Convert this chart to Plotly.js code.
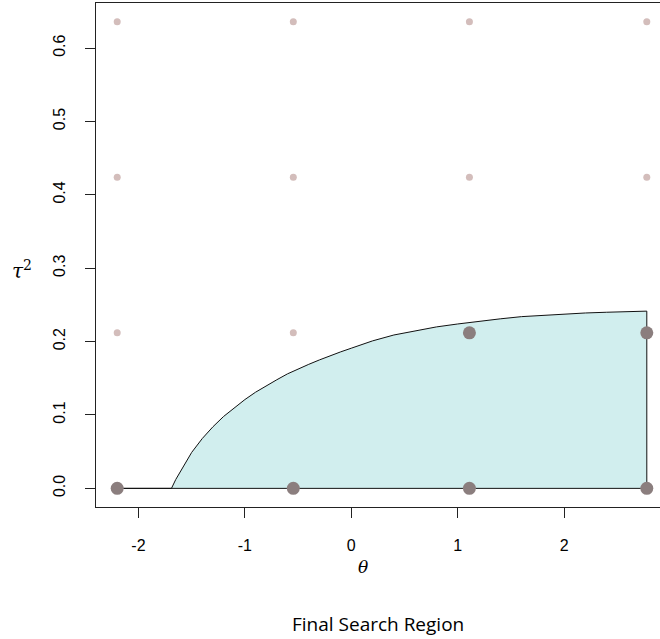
<!DOCTYPE html>
<html>
<head>
<meta charset="utf-8">
<script src="https://cdn.plot.ly/plotly-3.0.1.min.js"></script>
<style>
html,body{margin:0;padding:0;overflow:hidden;background:#fff;}
#chart{width:680px;height:639px;}
</style>
</head>
<body>
<div id="chart"></div>
<script>
// grid of candidate points
const gridTheta = [-2.2, -0.545, 1.11, 2.777];
const gridTau2 = [0, 0.212, 0.424, 0.636];
// selected (large) points
const selTheta = [-2.2, -0.545, 1.11, 2.777, 1.11, 2.777];
const selTau2 = [0, 0, 0, 0, 0.212, 0.212];
// boundary of the search region
const regionTheta = [-2.2, -1.69, -1.65, -1.6, -1.5, -1.4, -1.3, -1.2, -1.1, -1.0, -0.9, -0.8, -0.7, -0.6, -0.5, -0.4, -0.3, -0.2, -0.1, 0, 0.2, 0.4, 0.6, 0.8, 1.0, 1.2, 1.4, 1.6, 1.8, 2.0, 2.2, 2.4, 2.6, 2.777, 2.777, -2.2];
const regionTau2 = [0, 0, 0.012, 0.025, 0.049, 0.068, 0.084, 0.098, 0.110, 0.121, 0.131, 0.140, 0.148, 0.156, 0.163, 0.169, 0.175, 0.181, 0.186, 0.191, 0.201, 0.209, 0.215, 0.220, 0.224, 0.228, 0.231, 0.234, 0.236, 0.2375, 0.239, 0.240, 0.241, 0.2415, 0, 0];
const xTicks = [-2, -1, 0, 1, 2];
const yTicks = [0, 0.1, 0.2, 0.3, 0.4, 0.5, 0.6];

const gx = [], gy = [];
gridTau2.forEach(t => gridTheta.forEach(th => { gx.push(th); gy.push(t); }));

const traces = [
  {x: regionTheta, y: regionTau2, type: 'scatter', mode: 'lines', fill: 'toself',
   fillcolor: '#D1EEEE', line: {color: '#111', width: 1}, hoverinfo: 'skip'},
  {x: gx, y: gy, type: 'scatter', mode: 'markers',
   marker: {color: '#D3BDBB', size: 7}},
  {x: selTheta, y: selTau2, type: 'scatter', mode: 'markers',
   marker: {color: '#8B7E7E', size: 13}}
];

const tickFont = {family: 'Liberation Sans, Arial, sans-serif', size: 16, color: '#000'};
const layout = {
  width: 680, height: 639,
  margin: {l: 96, r: 12, t: 3, b: 131.5},
  paper_bgcolor: '#fff', plot_bgcolor: '#fff',
  showlegend: false,
  xaxis: {range: [-2.3992, 2.9762], tickvals: xTicks, ticktext: xTicks.map(String),
    showgrid: false, zeroline: false, showline: true, mirror: true, linecolor: '#222', linewidth: 1,
    ticks: 'outside', ticklen: 10, tickcolor: '#222', tickfont: tickFont, ticklabelstandoff: 14},
  yaxis: {range: [-0.0254, 0.6614], tickvals: yTicks, ticktext: yTicks.map(v => v.toFixed(1)),
    showgrid: false, zeroline: false, showline: true, mirror: true, linecolor: '#222', linewidth: 1,
    ticks: 'outside', ticklen: 10, tickcolor: '#222', tickfont: tickFont, tickangle: -90, ticklabelstandoff: 14},
  annotations: [
    {text: '<i>τ</i><sup>2</sup>', xref: 'paper', yref: 'paper', x: -0.129, y: 0.471,
     xanchor: 'center', yanchor: 'middle', showarrow: false,
     font: {family: 'DejaVu Serif, serif', size: 20, color: '#000'}},
    {text: '<i>θ</i>', xref: 'paper', yref: 'paper', x: 0.467, y: -0.120,
     xanchor: 'center', yanchor: 'middle', showarrow: false,
     font: {family: 'DejaVu Serif, serif', size: 17, color: '#000'}},
    {text: 'Final Search Region', xref: 'paper', yref: 'paper', x: 0.493, y: -0.233,
     xanchor: 'center', yanchor: 'middle', showarrow: false,
     font: {family: 'Open Sans, sans-serif', size: 19, color: '#000'}}
  ]
};
Plotly.newPlot('chart', traces, layout, {displayModeBar: false, staticPlot: true});
</script>
</body>
</html>
